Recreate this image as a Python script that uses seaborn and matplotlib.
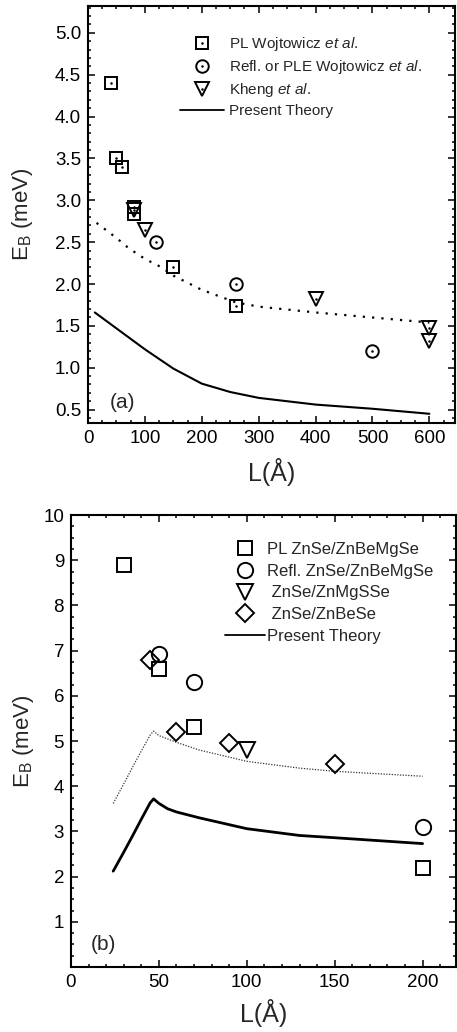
import numpy as np
import pandas as pd
import matplotlib
matplotlib.use("Agg")
import matplotlib.pyplot as plt
from matplotlib.lines import Line2D
from matplotlib.ticker import MultipleLocator, FormatStrFormatter
import seaborn as sns

sns.set_theme(style="ticks")
plt.rcParams["font.family"] = ["Liberation Sans", "DejaVu Sans"]
plt.rcParams["mathtext.fontset"] = "custom"
plt.rcParams["mathtext.rm"] = "Liberation Sans"
plt.rcParams["mathtext.it"] = "Liberation Sans:italic"

# ---- panel (a): experiment vs theory ----
a_pl_L = [40, 50, 60, 80, 80, 150, 260]
a_pl_E = [4.40, 3.51, 3.40, 2.92, 2.84, 2.20, 1.74]
a_refl_L = [120, 260, 500]
a_refl_E = [2.50, 2.00, 1.20]
a_kheng_L = [80, 100, 400, 600, 600]
a_kheng_E = [2.88, 2.65, 1.82, 1.47, 1.32]
a_theory_L = [12, 50, 100, 150, 200, 250, 300, 400, 500, 600]
a_theory_E = [1.66, 1.47, 1.22, 0.99, 0.81, 0.71, 0.64, 0.56, 0.51, 0.45]
a_dotted_L = [15, 50, 71, 100, 129, 150, 200, 260, 300, 400, 500, 600]
a_dotted_E = [2.73, 2.55, 2.43, 2.30, 2.20, 2.10, 1.93, 1.78, 1.73, 1.66, 1.60, 1.54]

# ---- panel (b): ZnSe wells ----
b_pl_L = [30, 50, 70, 200]
b_pl_E = [8.9, 6.6, 5.3, 2.2]
b_refl_L = [50, 70, 200]
b_refl_E = [6.92, 6.3, 3.1]
b_mgsse_L = [100]
b_mgsse_E = [4.8]
b_bese_L = [45, 60, 90, 150]
b_bese_E = [6.8, 5.2, 4.95, 4.5]
b_theory_L = [24, 30, 35, 40, 45, 47, 50, 55, 60, 73, 100, 130, 150, 200]
b_theory_E = [2.12, 2.54, 2.90, 3.27, 3.63, 3.72, 3.62, 3.50, 3.43, 3.30, 3.06, 2.91, 2.86, 2.73]
b_dotted_L = [24, 30, 35, 40, 45, 47, 50, 60, 73, 100, 130, 150, 200]
b_dotted_E = [3.62, 4.05, 4.42, 4.78, 5.13, 5.22, 5.12, 4.97, 4.80, 4.55, 4.40, 4.33, 4.22]

legend_a = ["PL Wojtowicz $\\it{et\\ al.}$",
            "Refl. or PLE Wojtowicz $\\it{et\\ al.}$",
            "Kheng $\\it{et\\ al.}$",
            "Present Theory"]
legend_b = ["PL ZnSe/ZnBeMgSe", "Refl. ZnSe/ZnBeMgSe", " ZnSe/ZnMgSSe",
            " ZnSe/ZnBeSe", "Present Theory"]

fig = plt.figure(figsize=(4.57, 10.32), dpi=100)
ax_a = fig.add_axes([88 / 457, 1 - 423 / 1032, 367 / 457, 417 / 1032])
ax_b = fig.add_axes([71 / 457, 1 - 967 / 1032, 385 / 457, 452 / 1032])

MS_A = {"s": 8.5, "o": 9, "v": 9.5}
MS_B = {"s": 10.5, "o": 11, "v": 11.5, "D": 9.5}


def open_markers(ax, L, E, marker, ms, dot=False):
    df = pd.DataFrame({"L": L, "E": E})
    sns.lineplot(data=df, x="L", y="E", ax=ax, estimator=None, sort=False,
                 linestyle="none", marker=marker, ms=ms, mfc="none",
                 mec="black", mew=1.4, color="black")
    if dot:
        sns.lineplot(data=df, x="L", y="E", ax=ax, estimator=None, sort=False,
                     linestyle="none", marker="o", ms=1.8, mfc="black",
                     mec="black", mew=0, color="black")


def curve(ax, L, E, **kw):
    df = pd.DataFrame({"L": L, "E": E})
    sns.lineplot(data=df, x="L", y="E", ax=ax, estimator=None, sort=False,
                 color="black", **kw)


# panel (a)
curve(ax_a, a_dotted_L, a_dotted_E, lw=1.6, linestyle=(0, (1, 3.2)))
curve(ax_a, a_theory_L, a_theory_E, lw=1.5)
open_markers(ax_a, a_pl_L, a_pl_E, "s", MS_A["s"], dot=True)
open_markers(ax_a, a_refl_L, a_refl_E, "o", MS_A["o"], dot=True)
open_markers(ax_a, a_kheng_L, a_kheng_E, "v", MS_A["v"], dot=True)

# panel (b)
curve(ax_b, b_dotted_L, b_dotted_E, lw=0.9, linestyle=(0, (1, 1.2)), alpha=0.8)
curve(ax_b, b_theory_L, b_theory_E, lw=2.0)
open_markers(ax_b, b_pl_L, b_pl_E, "s", MS_B["s"])
open_markers(ax_b, b_refl_L, b_refl_E, "o", MS_B["o"])
open_markers(ax_b, b_mgsse_L, b_mgsse_E, "v", MS_B["v"])
open_markers(ax_b, b_bese_L, b_bese_E, "D", MS_B["D"])


def proxy(marker, ms, dot):
    m = Line2D([], [], linestyle="none", marker=marker, ms=ms, mfc="none",
               mec="black", mew=1.4)
    if not dot:
        return m
    d = Line2D([], [], linestyle="none", marker="o", ms=1.8, mfc="black", mew=0)
    return (m, d)


line_proxy = Line2D([], [], color="black", lw=1.3)

ha = [proxy("s", MS_A["s"], True), proxy("o", MS_A["o"], True),
      proxy("v", MS_A["v"], True), line_proxy]
ax_a.legend(ha, legend_a, loc="upper left", bbox_to_anchor=(0.25, 0.93),
            frameon=False, fontsize=11, handlelength=2.9, handletextpad=0.35,
            labelspacing=0.32, borderpad=0, borderaxespad=0)

hb = [proxy("s", MS_B["s"], False), proxy("o", MS_B["o"], False),
      proxy("v", MS_B["v"], False), proxy("D", MS_B["D"], False), line_proxy]
ax_b.legend(hb, legend_b, loc="upper left", bbox_to_anchor=(0.4, 0.94),
            frameon=False, fontsize=12, handlelength=2.4, handletextpad=0.1,
            labelspacing=0.4, borderpad=0, borderaxespad=0)

ax_a.set_xlim(0, 645)
ax_a.set_ylim(0.34, 5.32)
ax_a.xaxis.set_major_locator(MultipleLocator(100))
ax_a.xaxis.set_minor_locator(MultipleLocator(25))
ax_a.yaxis.set_major_locator(MultipleLocator(0.5))
ax_a.yaxis.set_minor_locator(MultipleLocator(0.1))
ax_a.yaxis.set_major_formatter(FormatStrFormatter("%.1f"))

ax_b.set_xlim(0, 219)
ax_b.set_ylim(0, 10)
ax_b.xaxis.set_major_locator(MultipleLocator(50))
ax_b.xaxis.set_minor_locator(MultipleLocator(10))
ax_b.yaxis.set_minor_locator(MultipleLocator(0.25))
ax_b.set_yticks([1, 2, 3, 4, 5, 6, 7, 8, 9, 10])

for ax, tag, tx, pad in ((ax_a, "(a)", 0.093, 8), (ax_b, "(b)", 0.083, 6)):
    for s in ax.spines.values():
        s.set_linewidth(1.5)
        s.set_color("black")
    ax.tick_params(which="both", direction="in", top=True, right=True,
                   colors="black", labelsize=13.5, width=1.1)
    ax.tick_params(which="major", length=5, pad=5)
    ax.tick_params(which="minor", length=2.5)
    ax.set_xlabel("L(Å)", fontsize=18, labelpad=pad)
    ax.set_ylabel("E$_\\mathrm{B}$ (meV)", fontsize=16)
    ax.text(tx, 0.05, tag, transform=ax.transAxes,
            fontsize=15, ha="center", va="center")

ax_a.yaxis.set_label_coords(-0.145, 0.5)
ax_b.yaxis.set_label_coords(-0.092, 0.5)

fig.savefig("out.png", dpi=100)
